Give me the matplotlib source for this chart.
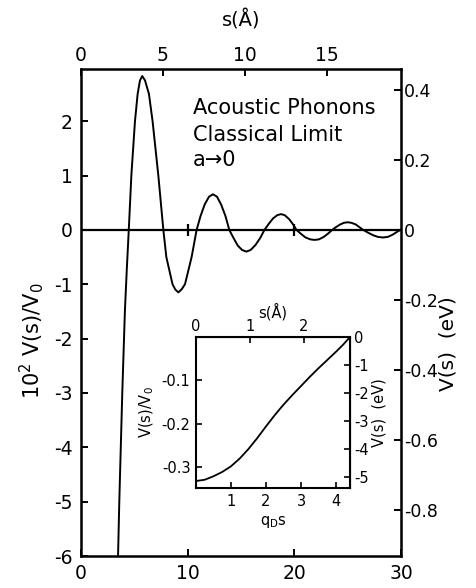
import matplotlib
matplotlib.use("Agg")
import matplotlib.pyplot as plt

# main curve: q_D s versus 10^2 V(s)/V0
qds_main = [3.45, 3.59, 3.73, 3.87, 4.0, 4.12, 4.3, 4.48, 4.72, 5.06, 5.31, 5.53,
            5.74, 6.0, 6.37, 6.71, 7.25, 7.72, 8.0, 8.58, 8.85, 9.13, 9.45, 9.75,
            10.37, 10.84, 11.2, 11.6, 12.0, 12.37, 12.75, 13.15, 13.55, 13.9,
            14.3, 14.7, 15.1, 15.5, 15.9, 16.35, 16.8, 17.2,
            17.6, 18.0, 18.4, 18.75, 19.1, 19.5, 19.85, 20.2,
            20.6, 21.05, 21.5, 21.9, 22.3, 22.75, 23.15, 23.55,
            23.9, 24.3, 24.65, 25.0, 25.35, 25.75, 26.1, 26.45,
            26.9, 27.4, 27.85, 28.3, 28.75, 29.2, 29.6, 29.95]
v_main = [-6.2, -5.0, -4.0, -3.0, -2.2, -1.47, -0.7, 0.0, 1.0, 2.0, 2.5, 2.75,
          2.83, 2.75, 2.5, 2.0, 1.0, 0.0, -0.5, -1.0, -1.10, -1.15, -1.09, -1.0,
          -0.5, 0.0, 0.25, 0.47, 0.61, 0.655, 0.61, 0.46, 0.25, 0.0,
          -0.15, -0.29, -0.37, -0.40, -0.37, -0.28, -0.15, 0.0,
          0.11, 0.21, 0.27, 0.29, 0.27, 0.20, 0.11, 0.0,
          -0.07, -0.14, -0.175, -0.185, -0.175, -0.13, -0.07, 0.0,
          0.05, 0.10, 0.13, 0.14, 0.13, 0.10, 0.05, 0.0,
          -0.05, -0.10, -0.13, -0.14, -0.13, -0.09, -0.04, 0.0]

# inset curve: q_D s versus V(s)/V0
qds_inset = [0.0, 0.25, 0.5, 0.75, 1.0, 1.25, 1.5, 1.75, 2.0, 2.25, 2.5, 2.75,
             3.0, 3.25, 3.5, 3.75, 4.0, 4.2, 4.4]
v_inset = [-0.332, -0.329, -0.321, -0.311, -0.298, -0.280, -0.258, -0.233, -0.206,
           -0.180, -0.156, -0.134, -0.113, -0.092, -0.072, -0.053, -0.034, -0.018, 0.0]

QD = 1.537      # q_D in 1/Angstrom
V0 = 15.5       # eV

main_xticks = [0, 10, 20, 30]
main_yticks = [-6, -5, -4, -3, -2, -1, 0, 1, 2]
main_top_ticks = [0, 5, 10, 15]
main_right_ticks = [-0.8, -0.6, -0.4, -0.2, 0, 0.2, 0.4]
main_right_labels = ["-0.8", "-0.6", "-0.4", "-0.2", "0", "0.2", "0.4"]
inset_xticks = [1, 2, 3, 4]
inset_yticks = [-0.3, -0.2, -0.1]
inset_top_ticks = [0, 1, 2]
inset_right_ticks = [-5, -4, -3, -2, -1, 0]

plt.rcParams["font.family"] = ["DejaVu Sans"]
plt.rcParams["axes.unicode_minus"] = False

fig = plt.figure(figsize=(4.77, 5.88), dpi=100)
ax = fig.add_axes([0.1698, 0.0544, 0.6709, 0.8283])

ax.plot(qds_main, v_main, color="black", linewidth=1.4, clip_on=True)
ax.axhline(0, color="black", linewidth=1.6)
ax.plot(main_xticks[1:-1], [0] * len(main_xticks[1:-1]), linestyle="none",
        marker="|", markersize=8, markeredgewidth=1.6, color="black")

ax.set_xlim(0, 30)
ax.set_ylim(-6, 2.96)
ax.set_xticks(main_xticks)
ax.set_yticks(main_yticks)
ax.tick_params(direction="in", length=5, width=1.4, labelsize=13.5, pad=6)
for sp in ax.spines.values():
    sp.set_linewidth(1.8)
ax.set_ylabel("10$^2$ V(s)/V$_0$", fontsize=15)
ax.yaxis.set_label_coords(-0.108, 0.443)

top = ax.secondary_xaxis("top", functions=(lambda x: x / QD, lambda s: s * QD))
top.set_xticks(main_top_ticks)
top.tick_params(direction="in", length=5, width=1.4, labelsize=13.5, pad=3)
top.set_xlabel("s(Å)", fontsize=14, labelpad=14)

right = ax.secondary_yaxis("right", functions=(lambda y: y * V0 / 100, lambda e: e * 100 / V0))
right.set_yticks(main_right_ticks)
right.set_yticklabels(main_right_labels)
right.tick_params(direction="in", length=5, width=1.4, labelsize=12.5, pad=2)
ax.text(1.147, 0.437, "V(s)  (eV)", transform=ax.transAxes, rotation=90,
        fontsize=14.5, ha="center", va="center")

ax.text(10.5, 2.25, "Acoustic Phonons", fontsize=15, va="center", ha="left")
ax.text(10.5, 1.75, "Classical Limit", fontsize=15, va="center", ha="left")
ax.text(10.5, 1.29, "a→0", fontsize=15, va="center", ha="left")

# inset
ins = fig.add_axes([0.4109, 0.1701, 0.3229, 0.2568])
ins.plot(qds_inset, v_inset, color="black", linewidth=1.3)
ins.set_xlim(0, 4.4)
ins.set_ylim(-0.348, 0)
ins.set_xticks(inset_xticks)
ins.set_yticks(inset_yticks)
ins.tick_params(direction="in", length=4, width=1.2, labelsize=10.5, pad=4)
for sp in ins.spines.values():
    sp.set_linewidth(1.5)
ins.set_xlabel("q$_\\mathrm{D}$s", fontsize=10.5, labelpad=4)
ins.set_ylabel("V(s)/V$_0$", fontsize=10.5, labelpad=4)

itop = ins.secondary_xaxis("top", functions=(lambda x: x / QD, lambda s: s * QD))
itop.set_xticks(inset_top_ticks)
itop.tick_params(direction="in", length=4, width=1.2, labelsize=10.5, pad=2)
itop.set_xlabel("s(Å)", fontsize=10.5, labelpad=1)

iright = ins.secondary_yaxis("right", functions=(lambda v: v * V0, lambda e: e / V0))
iright.set_yticks(inset_right_ticks)
iright.tick_params(direction="in", length=4, width=1.2, labelsize=10.5, pad=3)
iright.set_ylabel("V(s)  (eV)", fontsize=10.5, labelpad=2)

fig.savefig("out.png", dpi=100)
